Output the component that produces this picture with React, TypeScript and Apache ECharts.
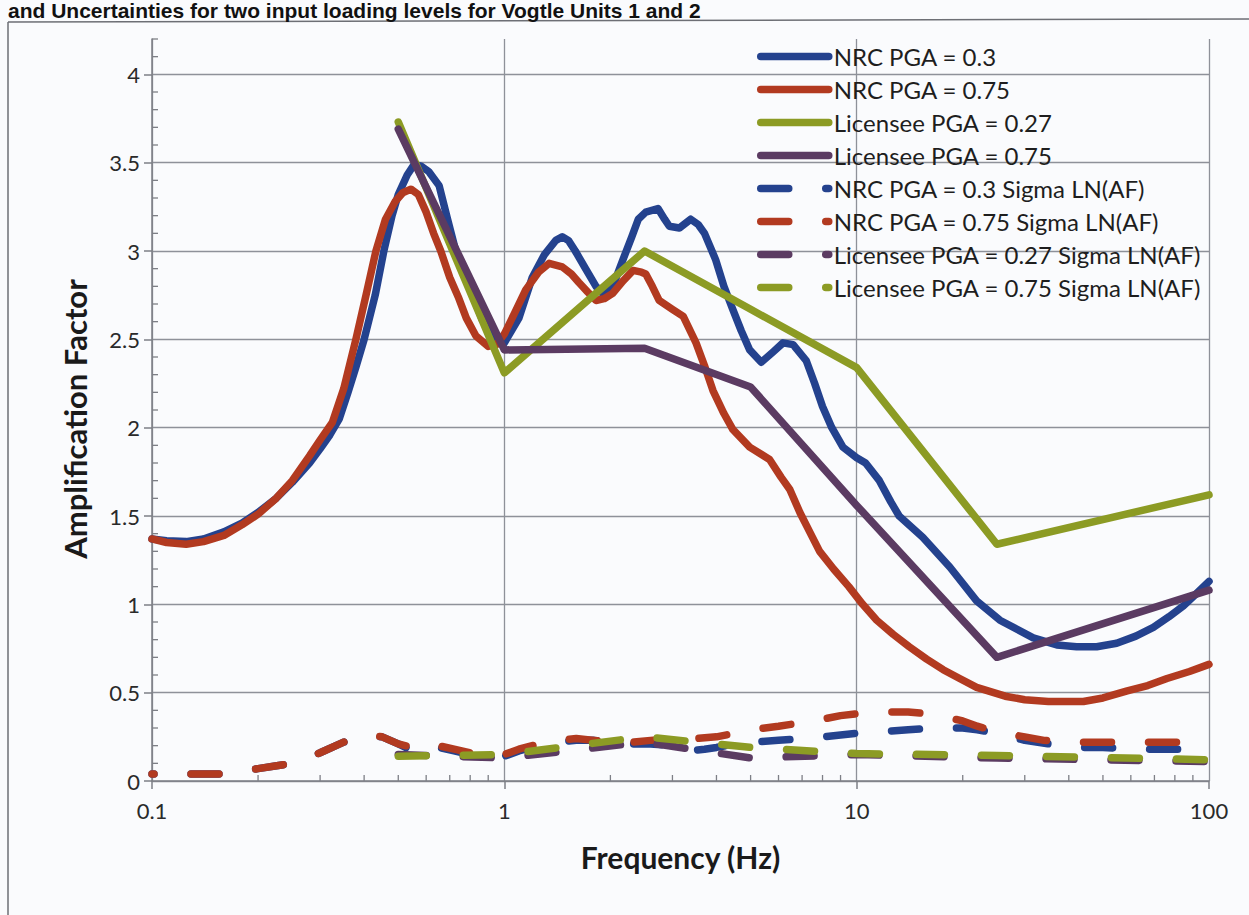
import React, { useEffect, useRef } from "react";
import * as echarts from "echarts";

// ---------- data (frequency Hz, amplification factor) ----------
const nrcPga030: number[][] = [
  [0.1, 1.37], [0.11, 1.36], [0.125, 1.355], [0.14, 1.37], [0.16, 1.41], [0.18, 1.46], [0.2, 1.52],
  [0.225, 1.6], [0.25, 1.69], [0.28, 1.8], [0.3, 1.88], [0.32, 1.96], [0.34, 2.05], [0.36, 2.2],
  [0.38, 2.35], [0.4, 2.5], [0.43, 2.75], [0.455, 3.0], [0.48, 3.2], [0.5, 3.32], [0.53, 3.43],
  [0.555, 3.49], [0.58, 3.48], [0.61, 3.45], [0.653, 3.37], [0.69, 3.18], [0.728, 3.0], [0.78, 2.84],
  [0.866, 2.61], [0.93, 2.52], [1.0, 2.48], [1.1, 2.62], [1.2, 2.85], [1.3, 2.98], [1.4, 3.06],
  [1.46, 3.08], [1.52, 3.06], [1.59, 3.0], [1.7, 2.9], [1.82, 2.8], [1.92, 2.75], [2.05, 2.82],
  [2.17, 2.95], [2.3, 3.08], [2.4, 3.18], [2.52, 3.22], [2.73, 3.24], [2.85, 3.18], [2.94, 3.14],
  [3.14, 3.13], [3.38, 3.18], [3.55, 3.15], [3.7, 3.1], [3.98, 2.95], [4.2, 2.8], [4.45, 2.67],
  [4.7, 2.55], [4.97, 2.44], [5.36, 2.37], [5.8, 2.43], [6.18, 2.48], [6.6, 2.47], [7.19, 2.38],
  [7.6, 2.25], [8.0, 2.12], [8.5, 2.0], [9.14, 1.89], [10.0, 1.83], [10.6, 1.8], [11.6, 1.7],
  [12.5, 1.58], [13.2, 1.5], [15.4, 1.38], [18.4, 1.21], [21.9, 1.02], [25.5, 0.91], [31.7, 0.81],
  [37, 0.77], [42.1, 0.76], [48, 0.76], [54.7, 0.78], [62, 0.82], [69.5, 0.87], [77, 0.93],
  [84.5, 0.99], [92, 1.06], [100, 1.13],
];

const nrcPga075: number[][] = [
  [0.1, 1.37], [0.11, 1.35], [0.125, 1.34], [0.14, 1.355], [0.16, 1.39], [0.18, 1.45], [0.2, 1.51],
  [0.225, 1.6], [0.25, 1.7], [0.28, 1.84], [0.3, 1.93], [0.325, 2.03], [0.35, 2.22], [0.379, 2.5],
  [0.405, 2.75], [0.432, 3.0], [0.46, 3.18], [0.49, 3.28], [0.515, 3.33], [0.543, 3.35], [0.57, 3.32],
  [0.6, 3.22], [0.63, 3.1], [0.66, 3.0], [0.7, 2.85], [0.74, 2.74], [0.78, 2.62], [0.83, 2.52],
  [0.9, 2.46], [0.95, 2.47], [1.0, 2.53], [1.07, 2.65], [1.15, 2.78], [1.25, 2.88], [1.34, 2.93],
  [1.46, 2.91], [1.55, 2.87], [1.63, 2.82], [1.72, 2.77], [1.82, 2.72], [1.92, 2.73], [2.03, 2.76],
  [2.17, 2.83], [2.32, 2.89], [2.45, 2.88], [2.52, 2.87], [2.63, 2.8], [2.75, 2.72], [3.0, 2.67],
  [3.22, 2.63], [3.5, 2.48], [3.7, 2.35], [3.91, 2.21], [4.2, 2.08], [4.45, 1.99], [4.97, 1.89],
  [5.66, 1.82], [6.1, 1.72], [6.46, 1.65], [6.9, 1.52], [7.4, 1.4], [7.85, 1.3], [8.6, 1.2],
  [9.5, 1.1], [10.4, 1.0], [11.4, 0.91], [12.7, 0.83], [14.1, 0.76], [15.8, 0.69], [17.6, 0.63],
  [19.6, 0.58], [21.9, 0.53], [26.4, 0.48], [30, 0.46], [35, 0.45], [44, 0.45], [50, 0.47],
  [58.6, 0.51], [67, 0.54], [76, 0.58], [88, 0.62], [100, 0.66],
];

const licenseePga027: number[][] = [
  [0.5, 3.73], [1, 2.31], [2.5, 3.0], [5, 2.67], [10, 2.34], [25, 1.34], [100, 1.62],
];

const licenseePga075: number[][] = [
  [0.5, 3.69], [1, 2.44], [2.5, 2.45], [5, 2.23], [10, 1.56], [25, 0.7], [100, 1.08],
];

const nrcPga030Sigma: number[][] = [
  [0.1, 0.04], [0.126, 0.04], [0.158, 0.04], [0.2, 0.07], [0.25, 0.1], [0.3, 0.16], [0.35, 0.22],
  [0.4, 0.25], [0.45, 0.25], [0.5, 0.21], [0.55, 0.17], [0.6, 0.19], [0.65, 0.19], [0.72, 0.17],
  [0.8, 0.15], [0.9, 0.14], [1.0, 0.14], [1.1, 0.17], [1.2, 0.19], [1.4, 0.22], [1.6, 0.23],
  [1.8, 0.23], [2.0, 0.22], [2.3, 0.21], [2.6, 0.21], [3.0, 0.2], [3.3, 0.17], [3.7, 0.18],
  [4.0, 0.19], [4.5, 0.21], [5, 0.22], [6, 0.23], [7, 0.24], [8, 0.25], [9, 0.26], [10, 0.27],
  [12, 0.28], [14, 0.29], [17, 0.3], [20, 0.3], [22, 0.29], [25, 0.27], [30, 0.23], [35, 0.21],
  [42, 0.19], [50, 0.19], [63, 0.18], [80, 0.18], [100, 0.17],
];

const nrcPga075Sigma: number[][] = [
  [0.1, 0.04], [0.126, 0.04], [0.158, 0.04], [0.2, 0.07], [0.25, 0.1], [0.3, 0.16], [0.35, 0.22],
  [0.4, 0.26], [0.45, 0.25], [0.5, 0.21], [0.55, 0.19], [0.6, 0.21], [0.65, 0.2], [0.72, 0.18],
  [0.8, 0.16], [0.9, 0.15], [1.0, 0.15], [1.1, 0.18], [1.2, 0.2], [1.4, 0.23], [1.6, 0.24],
  [1.8, 0.23], [2.0, 0.22], [2.3, 0.22], [2.6, 0.23], [3.0, 0.24], [3.5, 0.24], [4.0, 0.25],
  [4.5, 0.27], [5, 0.29], [6, 0.31], [7, 0.33], [8, 0.35], [9, 0.37], [10, 0.38], [12, 0.39],
  [14, 0.39], [16, 0.38], [18, 0.36], [20, 0.34], [22, 0.31], [26, 0.27], [30, 0.25], [34, 0.23],
  [40, 0.22], [50, 0.22], [63, 0.22], [80, 0.22], [100, 0.22],
];

const licenseePga027Sigma: number[][] = [
  [0.5, 0.15], [1, 0.13], [2.5, 0.22], [5, 0.13], [10, 0.15], [25, 0.13], [100, 0.11],
];

const licenseePga075Sigma: number[][] = [
  [0.5, 0.14], [1, 0.15], [2.5, 0.25], [5, 0.19], [10, 0.155], [25, 0.145], [100, 0.12],
];

const seriesNames = [
  "NRC PGA = 0.3",
  "NRC PGA = 0.75",
  "Licensee PGA = 0.27",
  "Licensee PGA = 0.75",
  "NRC PGA = 0.3 Sigma LN(AF)",
  "NRC PGA = 0.75 Sigma LN(AF)",
  "Licensee PGA = 0.27 Sigma LN(AF)",
  "Licensee PGA = 0.75 Sigma LN(AF)",
];

// minor tick positions
const xMinorTicks = [0.2, 0.3, 0.4, 0.5, 0.6, 0.7, 0.8, 0.9, 2, 3, 4, 5, 6, 7, 8, 9, 20, 30, 40, 50, 60, 70, 80, 90];
const yMinorTicks = [
  0.1, 0.2, 0.3, 0.4, 0.6, 0.7, 0.8, 0.9, 1.1, 1.2, 1.3, 1.4, 1.6, 1.7, 1.8, 1.9, 2.1, 2.2, 2.3, 2.4,
  2.6, 2.7, 2.8, 2.9, 3.1, 3.2, 3.3, 3.4, 3.6, 3.7, 3.8, 3.9, 4.1, 4.2,
];

const titleText = "and Uncertainties for two input loading levels for Vogtle Units 1 and 2";

const BLUE = "#24428e";
const RED = "#b23a20";
const GREEN = "#8c9b24";
const PURPLE = "#5b3b62";
const GRID = "#8e9199";
const AXIS = "#7d7f86";
const FONT = "Lato, 'Open Sans', sans-serif";

function solid(name: string, data: number[][], color: string) {
  return {
    name,
    type: "line",
    data,
    symbol: "none",
    showSymbol: false,
    color,
    lineStyle: { width: 7.5, color, cap: "round", join: "round" },
    emphasis: { disabled: true },
    z: 3,
  };
}

function dashed(name: string, data: number[][], color: string, offset: number) {
  return {
    name,
    type: "line",
    data,
    symbol: "none",
    showSymbol: false,
    color,
    lineStyle: { width: 7.5, color, type: [28, 37], dashOffset: offset, cap: "round", join: "round" },
    emphasis: { disabled: true },
    z: 3,
  };
}

export default function App() {
  const ref = useRef<HTMLDivElement>(null);

  useEffect(() => {
    if (!ref.current) return;
    const chart = echarts.init(ref.current, null, { renderer: "svg" });

    const minorData: number[][] = [];
    xMinorTicks.forEach((v) => minorData.push([v, 0, 0]));
    yMinorTicks.forEach((v) => minorData.push([0.1, v, 1]));

    const option: any = {
      animation: false,
      backgroundColor: "#fafbfd",
      grid: { left: 152, right: 40, top: 39, bottom: 134, containLabel: false },
      xAxis: {
        type: "log",
        logBase: 10,
        min: 0.1,
        max: 100,
        name: "Frequency (Hz)",
        nameLocation: "middle",
        nameGap: 61,
        nameTextStyle: { fontFamily: FONT, fontWeight: "bold", fontSize: 30, color: "#1a1a1a" },
        axisLine: { show: true, onZero: false, lineStyle: { color: AXIS, width: 1.5 } },
        axisTick: { show: true, length: 8, lineStyle: { color: AXIS, width: 1.5 } },
        axisLabel: {
          fontFamily: FONT,
          fontSize: 22,
          color: "#2a2a2a",
          margin: 18,
          formatter: (v: number) => String(v),
        },
        splitLine: { show: true, lineStyle: { color: GRID, width: 1.3 } },
      },
      yAxis: {
        type: "value",
        min: 0,
        max: 4.2,
        interval: 0.5,
        name: "Amplification Factor",
        nameLocation: "middle",
        nameGap: 62,
        nameRotate: 90,
        nameTextStyle: {
          fontFamily: FONT,
          fontWeight: "bold",
          fontSize: 31,
          color: "#1a1a1a",
          padding: [0, 18, 0, 0],
        },
        axisLine: { show: true, lineStyle: { color: AXIS, width: 1.5 } },
        axisTick: { show: true, length: 8, lineStyle: { color: AXIS, width: 1.5 } },
        axisLabel: {
          fontFamily: FONT,
          fontSize: 22,
          color: "#2a2a2a",
          margin: 12,
          showMaxLabel: false,
        },
        splitLine: { show: true, showMaxLine: false, lineStyle: { color: GRID, width: 1.3 } },
      },
      legend: {
        orient: "vertical",
        left: 757,
        top: 44,
        padding: 0,
        itemWidth: 68,
        itemHeight: 2,
        itemGap: 8,
        data: seriesNames,
        selectedMode: false,
        textStyle: { fontFamily: FONT, fontSize: 24, color: "#1e1e1e", lineHeight: 25 },
        lineStyle: { width: 7.5, dashOffset: 0, cap: "round" },
        itemStyle: { opacity: 0 },
      },
      graphic: [
        {
          type: "text",
          left: 8,
          top: 0,
          style: {
            text: titleText,
            fontFamily: "'Liberation Sans', Arial, sans-serif",
            fontWeight: "bold",
            fontSize: 21,
            fill: "#111",
          },
          z: 10,
        },
        {
          type: "line",
          shape: { x1: 8, y1: 22, x2: 1249, y2: 19 },
          style: { stroke: "#6d6f75", lineWidth: 1.5 },
        },
        {
          type: "line",
          shape: { x1: 8, y1: 22, x2: 8, y2: 915 },
          style: { stroke: "#6d6f75", lineWidth: 1.5 },
        },
      ],
      series: [
        {
          type: "custom",
          silent: true,
          clip: false,
          z: 2,
          data: minorData,
          renderItem: (_params: any, api: any) => {
            const p = api.coord([api.value(0), api.value(1)]);
            const dir = api.value(2);
            const shape =
              dir === 0
                ? { x1: p[0], y1: p[1], x2: p[0], y2: p[1] - 6 }
                : { x1: p[0], y1: p[1], x2: p[0] + 6, y2: p[1] };
            return { type: "line", shape, style: { stroke: AXIS, lineWidth: 1.3 } };
          },
        },
        solid(seriesNames[0], nrcPga030, BLUE),
        solid(seriesNames[1], nrcPga075, RED),
        solid(seriesNames[2], licenseePga027, GREEN),
        solid(seriesNames[3], licenseePga075, PURPLE),
        dashed(seriesNames[4], nrcPga030Sigma, BLUE, 26),
        dashed(seriesNames[5], nrcPga075Sigma, RED, 26),
        dashed(seriesNames[6], licenseePga027Sigma, PURPLE, 0),
        dashed(seriesNames[7], licenseePga075Sigma, GREEN, 0),
      ],
    };

    chart.setOption(option);
    return () => chart.dispose();
  }, []);

  return (
    <div
      ref={ref}
      style={{ position: "fixed", left: 0, top: 0, width: 1249, height: 915 }}
    />
  );
}
